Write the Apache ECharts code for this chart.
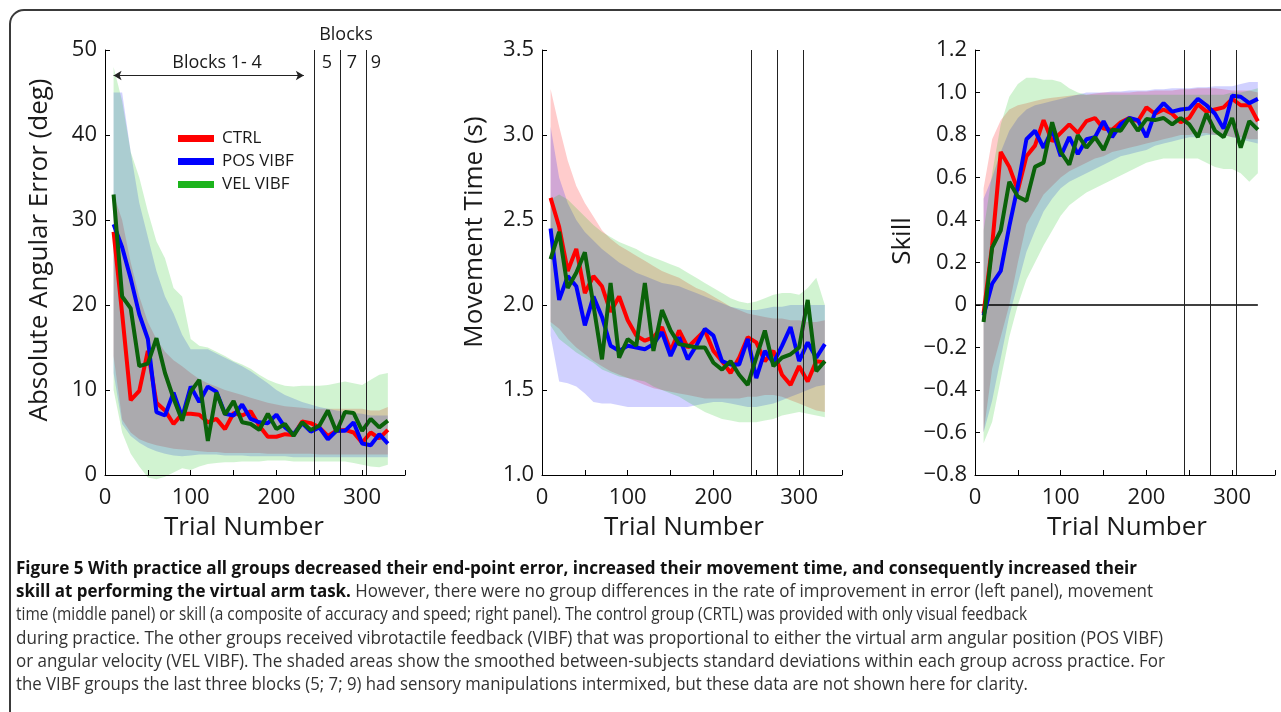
<!DOCTYPE html>
<html>
<head>
<meta charset="utf-8">
<title>Figure 5</title>
<script src="https://cdn.jsdelivr.net/npm/echarts@6.0.0/dist/echarts.min.js"></script>
<style>
html, body { margin: 0; padding: 0; background: #fff; }
#fig { width: 1281px; height: 712px; }
</style>
</head>
<body>
<div id="fig"></div>
<script>
var FONT = '"Open Sans", "Noto Sans", sans-serif';
var INK = '#1a1a1a';

// trial numbers where each group mean was sampled
var trials = [10, 20, 30, 40, 50, 60, 70, 80, 90, 100, 110, 120, 130, 140, 150, 160, 170,
    180, 190, 200, 210, 220, 230, 240, 250, 260, 270, 280, 290, 300, 310, 320, 330];
var blockStarts = [244, 274, 305];
var groupNames = ['CTRL', 'POS VIBF', 'VEL VIBF'];

// axis ranges: [min, max, interval]
var trialRange = [0, 350, 50];
var errRange = [0, 50, 10];
var mtRange = [1, 3.5, 0.5];
var skillRange = [-0.8, 1.2, 0.2];

// absolute angular error (deg)
var errCtrl = [28.6, 19, 8.8, 9.9, 14.6, 8.5, 7.6, 6.0, 7.2, 7.2, 7.1, 6.2, 6.6, 5.4, 7.3, 7.0, 7.5,
    5.8, 4.5, 4.5, 4.8, 4.7, 6.3, 6.1, 5.6, 4.6, 5.2, 5.3, 5.0, 3.8, 5.0, 4.3, 5.3];
var errPos = [29.5, 26.8, 23.1, 18.9, 16.0, 7.4, 7.0, 9.7, 6.8, 10.4, 8.6, 10.4, 9.8, 7.2, 7.0, 8.3, 6.6,
    6.2, 6.1, 7.1, 5.6, 4.8, 6.1, 5.1, 5.6, 4.2, 5.2, 5.2, 6.2, 3.7, 3.5, 4.8, 3.7];
var errVel = [33.0, 21.0, 19.6, 12.8, 13.1, 16.1, 12.0, 9.0, 6.4, 9.8, 11.2, 4.0, 9.7, 7.1, 8.7, 6.2, 6.0,
    5.3, 7.2, 5.4, 6.0, 4.6, 6.2, 5.3, 5.8, 7.6, 5.1, 7.4, 7.3, 5.2, 6.6, 5.6, 6.4];
var errCtrlHi = [33, 30, 25, 21, 18, 16, 14.5, 13.5, 12.8, 12, 11.3, 10.8, 10.4, 10, 9.7, 9.4, 9.1,
    8.8, 8.5, 8.3, 8.1, 8.0, 7.9, 7.8, 7.8, 7.8, 7.8, 7.8, 7.8, 7.8, 7.6, 7.6, 8.0];
var errCtrlLo = [14, 6.5, 5.0, 4.2, 3.8, 3.5, 3.3, 3.1, 3.0, 2.9, 2.8, 2.7, 2.7, 2.6, 2.6, 2.6, 2.6,
    2.6, 2.5, 2.5, 2.5, 2.5, 2.5, 2.5, 2.4, 2.4, 2.4, 2.4, 2.4, 2.4, 2.4, 2.4, 2.4];
var errPosHi = [45, 45, 38, 32, 28, 24, 21, 19, 16.5, 14.8, 14.8, 14.8, 14.3, 13.8, 13.3, 12.8, 12.2,
    11.5, 10.8, 10.0, 9.4, 9.0, 8.6, 8.3, 8.0, 7.8, 7.6, 7.4, 7.3, 7.2, 7.0, 7.0, 7.0];
var errPosLo = [12, 6, 4.6, 3.8, 3.2, 2.8, 2.5, 2.3, 2.2, 2.3, 2.4, 2.4, 2.4, 2.3, 2.3, 2.3, 2.2,
    2.2, 2.2, 2.2, 2.2, 2.1, 2.1, 2.1, 2.1, 2.1, 2.1, 2.1, 2.1, 2.1, 2.1, 2.1, 2.1];
var errVelHi = [48, 44, 38, 35, 31, 27.5, 25.5, 22, 21, 16, 15.2, 15, 14.5, 14, 13.4, 13, 12.5,
    11.8, 11.2, 10.8, 10.5, 10.4, 10.5, 10.5, 10.5, 10.6, 10.8, 11, 10.8, 10.6, 11.2, 11.8, 12];
var errVelLo = [10, 5, 2.5, 1.0, -0.3, -0.5, -0.2, 0.3, 0.8, 0.6, 1.0, 1.3, 1.4, 1.5, 1.5, 1.6, 1.6,
    1.6, 1.7, 1.7, 1.7, 1.6, 1.6, 1.6, 1.6, 1.6, 1.6, 1.6, 1.4, 1.2, 1.0, 0.9, 1.2];

// movement time (s)
var mtCtrl = [2.63, 2.46, 2.2, 2.33, 2.07, 2.17, 2.11, 1.96, 2.05, 1.91, 1.82, 1.79, 1.81, 1.87, 1.73, 1.85, 1.75,
    1.8, 1.85, 1.73, 1.67, 1.6, 1.69, 1.81, 1.78, 1.67, 1.73, 1.59, 1.53, 1.64, 1.55, 1.67, 1.66];
var mtPos = [2.45, 2.03, 2.17, 2.11, 1.88, 2.05, 1.93, 1.76, 1.73, 1.76, 1.75, 1.74, 1.77, 1.84, 1.7, 1.81, 1.68,
    1.76, 1.86, 1.82, 1.67, 1.65, 1.65, 1.8, 1.57, 1.73, 1.66, 1.76, 1.87, 1.67, 1.78, 1.69, 1.77];
var mtVel = [2.27, 2.43, 2.1, 2.19, 2.31, 2.0, 1.68, 2.13, 1.69, 1.8, 1.76, 2.13, 1.73, 1.97, 1.85, 1.77, 1.76,
    1.75, 1.75, 1.66, 1.62, 1.67, 1.59, 1.53, 1.69, 1.85, 1.64, 1.69, 1.71, 1.75, 2.03, 1.61, 1.67];
var mtCtrlHi = [3.27, 3.05, 2.85, 2.7, 2.6, 2.52, 2.44, 2.39, 2.35, 2.32, 2.29, 2.26, 2.23, 2.2, 2.18, 2.16, 2.13,
    2.1, 2.08, 2.05, 2.02, 1.99, 1.97, 1.95, 1.94, 1.93, 1.92, 1.92, 1.91, 1.91, 1.9, 1.9, 1.91];
var mtCtrlLo = [1.9, 1.86, 1.8, 1.75, 1.71, 1.67, 1.64, 1.61, 1.59, 1.57, 1.55, 1.53, 1.51, 1.5, 1.49, 1.48, 1.47,
    1.46, 1.45, 1.45, 1.45, 1.45, 1.45, 1.46, 1.46, 1.47, 1.47, 1.46, 1.44, 1.42, 1.4, 1.38, 1.37];
var mtPosHi = [3.05, 2.75, 2.6, 2.5, 2.43, 2.38, 2.33, 2.29, 2.25, 2.22, 2.19, 2.17, 2.15, 2.13, 2.12, 2.11, 2.09,
    2.07, 2.05, 2.03, 2.01, 1.99, 1.98, 1.97, 1.97, 1.98, 1.99, 1.99, 2.0, 2.0, 2.0, 2.0, 2.0];
var mtPosLo = [1.82, 1.55, 1.54, 1.52, 1.48, 1.43, 1.42, 1.42, 1.41, 1.4, 1.4, 1.4, 1.4, 1.4, 1.4, 1.4, 1.4,
    1.41, 1.42, 1.43, 1.43, 1.42, 1.41, 1.4, 1.4, 1.41, 1.42, 1.44, 1.46, 1.48, 1.5, 1.52, 1.53];
var mtVelHi = [2.62, 2.65, 2.62, 2.57, 2.52, 2.47, 2.43, 2.4, 2.37, 2.35, 2.33, 2.3, 2.28, 2.26, 2.24, 2.22, 2.19,
    2.16, 2.13, 2.1, 2.07, 2.04, 2.02, 2.01, 2.02, 2.04, 2.06, 2.07, 2.07, 2.06, 2.1, 2.16, 2.0];
var mtVelLo = [1.88, 1.8, 1.76, 1.72, 1.69, 1.66, 1.62, 1.6, 1.58, 1.57, 1.56, 1.55, 1.52, 1.5, 1.48, 1.46, 1.43,
    1.4, 1.37, 1.35, 1.33, 1.32, 1.31, 1.31, 1.31, 1.32, 1.33, 1.35, 1.36, 1.37, 1.36, 1.35, 1.34];

// skill
var skCtrl = [-0.04, 0.28, 0.72, 0.65, 0.54, 0.7, 0.75, 0.87, 0.77, 0.81, 0.85, 0.81, 0.865, 0.88, 0.83, 0.825, 0.86,
    0.88, 0.865, 0.93, 0.9, 0.92, 0.9, 0.86, 0.88, 0.945, 0.91, 0.92, 0.93, 0.97, 0.94, 0.94, 0.865];
var skPos = [-0.05, 0.1, 0.16, 0.37, 0.56, 0.78, 0.82, 0.74, 0.825, 0.7, 0.79, 0.71, 0.78, 0.79, 0.865, 0.79, 0.85,
    0.88, 0.87, 0.79, 0.905, 0.95, 0.91, 0.92, 0.925, 0.97, 0.94, 0.9, 0.83, 0.985, 0.98, 0.95, 0.97];
var skVel = [-0.08, 0.27, 0.35, 0.58, 0.51, 0.49, 0.65, 0.67, 0.86, 0.72, 0.66, 0.8, 0.74, 0.79, 0.73, 0.825, 0.82,
    0.88, 0.82, 0.875, 0.87, 0.88, 0.85, 0.88, 0.85, 0.79, 0.9, 0.82, 0.79, 0.88, 0.74, 0.865, 0.825];
var skCtrlHi = [0.55, 0.78, 0.87, 0.92, 0.94, 0.95, 0.96, 0.97, 0.975, 0.98, 0.985, 0.99, 0.99, 0.995, 1.0, 1.0, 1.0,
    1.0, 1.005, 1.005, 1.01, 1.01, 1.01, 1.015, 1.015, 1.02, 1.02, 1.02, 1.015, 1.01, 1.01, 1.01, 1.0];
var skCtrlLo = [-0.6, -0.3, -0.15, 0.0, 0.2, 0.38, 0.45, 0.52, 0.56, 0.6, 0.63, 0.65, 0.67, 0.69, 0.7, 0.72, 0.73,
    0.74, 0.75, 0.76, 0.77, 0.78, 0.79, 0.8, 0.8, 0.81, 0.81, 0.8, 0.8, 0.79, 0.79, 0.78, 0.78];
var skPosHi = [0.5, 0.6, 0.72, 0.82, 0.88, 0.92, 0.94, 0.95, 0.96, 0.97, 0.98, 0.99, 1.0, 1.0, 1.0, 1.005, 1.005,
    1.01, 1.01, 1.01, 1.015, 1.015, 1.02, 1.02, 1.02, 1.025, 1.025, 1.03, 1.03, 1.03, 1.04, 1.05, 1.05];
var skPosLo = [-0.6, -0.45, -0.25, -0.05, 0.1, 0.25, 0.35, 0.44, 0.5, 0.55, 0.58, 0.6, 0.62, 0.64, 0.66, 0.68, 0.7,
    0.71, 0.72, 0.73, 0.75, 0.76, 0.77, 0.78, 0.79, 0.79, 0.8, 0.8, 0.8, 0.79, 0.78, 0.77, 0.76];
var skVelHi = [0.35, 0.62, 0.85, 0.98, 1.04, 1.07, 1.07, 1.06, 1.06, 1.05, 1.02, 1.0, 0.99, 0.99, 0.99, 0.99, 0.99,
    0.99, 0.99, 0.99, 0.99, 0.99, 0.99, 0.99, 0.99, 0.99, 0.99, 0.99, 0.99, 1.0, 1.0, 1.01, 1.02];
var skVelLo = [-0.65, -0.55, -0.35, -0.15, 0.0, 0.12, 0.2, 0.28, 0.35, 0.42, 0.47, 0.5, 0.53, 0.55, 0.57, 0.59, 0.61,
    0.63, 0.65, 0.67, 0.68, 0.69, 0.69, 0.69, 0.69, 0.69, 0.67, 0.65, 0.64, 0.64, 0.62, 0.58, 0.62];

var captionLines = [
    ['Figure 5 With practice all groups decreased their end-point error, increased their movement time, and consequently increased their', ''],
    ['skill at performing the virtual arm task.', ' However, there were no group differences in the rate of improvement in error (left panel), movement'],
    ['', 'time (middle panel) or skill (a composite of accuracy and speed; right panel). The control group (CRTL) was provided with only visual feedback'],
    ['', 'during practice. The other groups received vibrotactile feedback (VIBF) that was proportional to either the virtual arm angular position (POS VIBF)'],
    ['', 'or angular velocity (VEL VIBF). The shaded areas show the smoothed between-subjects standard deviations within each group across practice. For'],
    ['', 'the VIBF groups the last three blocks (5; 7; 9) had sensory manipulations intermixed, but these data are not shown here for clarity.']
];
var captionEnds = [1137, 1153, 1027, 1163, 1165, 1028];

var lineColors = ['#ff0000', '#0000ff', '#0a620a'];
var legendColors = ['#ff0000', '#0000ff', '#1cb41c'];
var bandColors = ['rgba(255,0,0,0.2)', 'rgba(0,0,255,0.18)', 'rgba(0,190,0,0.18)'];
var gridLefts = [105, 542, 975];

var panels = [
    {range: errRange, means: [errCtrl, errPos, errVel], hi: [errCtrlHi, errPosHi, errVelHi], lo: [errCtrlLo, errPosLo, errVelLo],
        fmt: function (v) { return String(v); }},
    {range: mtRange, means: [mtCtrl, mtPos, mtVel], hi: [mtCtrlHi, mtPosHi, mtVelHi], lo: [mtCtrlLo, mtPosLo, mtVelLo],
        fmt: function (v) { return v.toFixed(1); }},
    {range: skillRange, means: [skCtrl, skPos, skVel], hi: [skCtrlHi, skPosHi, skVelHi], lo: [skCtrlLo, skPosLo, skVelLo],
        fmt: function (v) {
            if (Math.abs(v) < 1e-9) return '0';
            return (v < 0 ? '\u2212' : '') + Math.abs(v).toFixed(1);
        }}
];

function pairs(ys) {
    return trials.map(function (t, k) { return [t, ys[k]]; });
}

// one filled polygon per band, upper edge forward then lower edge back
function bandSeries(pi, lo, hi, color) {
    return {
        type: 'custom', xAxisIndex: pi, yAxisIndex: pi, silent: true, clip: pi !== 0, z: 1,
        data: trials.map(function (t, k) { return [t, lo[k], hi[k]]; }),
        encode: {x: 0, y: [1, 2]},
        renderItem: function (params, api) {
            if (params.dataIndex !== 0) return;
            var pts = [];
            for (var k = 0; k < trials.length; k++) pts.push(api.coord([trials[k], hi[k]]));
            for (var j = trials.length - 1; j >= 0; j--) pts.push(api.coord([trials[j], lo[j]]));
            return {type: 'polygon', shape: {points: pts}, style: {fill: color, stroke: null}};
        }
    };
}

var grids = [], xAxes = [], yAxes = [], series = [];

panels.forEach(function (p, pi) {
    grids.push({left: gridLefts[pi], top: 50, width: 300, height: 425, containLabel: false, outerBoundsMode: 'none'});
    xAxes.push({
        type: 'value', gridIndex: pi, min: trialRange[0], max: trialRange[1], interval: trialRange[2],
        axisLine: {onZero: false, lineStyle: {color: '#000', width: 1}},
        axisTick: {inside: true, length: 5, lineStyle: {color: '#000'}},
        axisLabel: {margin: 12, fontSize: 22, fontFamily: FONT, color: INK,
            formatter: function (v) { return v % 100 === 0 ? String(v) : ''; }},
        splitLine: {show: false}, z: 5
    });
    yAxes.push({
        type: 'value', gridIndex: pi, min: p.range[0], max: p.range[1], interval: p.range[2],
        axisLine: {show: true, onZero: false, lineStyle: {color: '#000', width: 1}},
        axisTick: {show: true, inside: true, length: 5, lineStyle: {color: '#000'}},
        axisLabel: {margin: 8, fontSize: 22, fontFamily: FONT, color: INK, formatter: p.fmt,
            showMinLabel: true, showMaxLabel: true},
        splitLine: {show: false}, z: 5
    });

    p.lo.forEach(function (lo, g) {
        series.push(bandSeries(pi, lo, p.hi[g], bandColors[g]));
    });

    if (pi === 2) {
        series.push({
            type: 'line', xAxisIndex: pi, yAxisIndex: pi, silent: true, symbol: 'none', z: 2,
            data: [[trialRange[0], 0], [trials[trials.length - 1], 0]],
            lineStyle: {color: '#000', width: 1.5}
        });
    }

    p.means.forEach(function (m, g) {
        var s = {
            type: 'line', name: groupNames[g], xAxisIndex: pi, yAxisIndex: pi,
            data: pairs(m), symbol: 'none', z: 3,
            lineStyle: {color: lineColors[g], width: 4}, itemStyle: {color: lineColors[g]},
            emphasis: {disabled: true}
        };
        if (g === 2) {
            var marks = blockStarts.map(function (b) { return {xAxis: b}; });
            if (pi === 0) {
                marks.push([
                    {coord: [10, 47], symbol: 'arrow'},
                    {coord: [232, 47], symbol: 'arrow'}
                ]);
            }
            s.markLine = {
                silent: true, symbol: 'none', symbolSize: [7, 8], animation: false,
                label: {show: false}, emphasis: {disabled: true},
                lineStyle: {color: '#222', width: 1, type: 'solid'},
                data: marks
            };
        }
        series.push(s);
    });
});

function label(text, x, y, size, rot) {
    return {
        type: 'text', x: x, y: y, rotation: rot || 0, silent: true, z: 10,
        style: {text: text, fontSize: size, fontFamily: FONT, fill: INK, align: 'center', verticalAlign: 'middle'}
    };
}

var graphics = [
    {type: 'rect', silent: true, z: 0, shape: {x: 10, y: 10, width: 1300, height: 760, r: 14},
        style: {fill: 'none', stroke: '#3a3a3a', lineWidth: 2}},
    label('Blocks', 346, 35, 18),
    label('Blocks 1- 4', 217, 63, 18),
    label('5', 327, 63, 18),
    label('7', 352, 63, 18),
    label('9', 376, 63, 18),
    label('Absolute Angular Error (deg)', 40, 250, 26, Math.PI / 2),
    label('Movement Time (s)', 475, 232, 26, Math.PI / 2),
    label('Skill', 903, 241, 26, Math.PI / 2),
    label('Trial Number', 244, 528, 26),
    label('Trial Number', 684, 528, 26),
    label('Trial Number', 1127, 528, 26)
];

// caption: squeeze each line horizontally to the measured line length
var CAP_SIZE = 18;
var capY = [569, 592, 615, 639, 662, 685];
var mctx = document.createElement('canvas').getContext('2d');
function measure(str, weight) {
    mctx.font = weight + ' ' + CAP_SIZE + 'px ' + FONT;
    return mctx.measureText(str).width;
}
captionLines.forEach(function (ln, i) {
    var w = measure(ln[0], 'bold') + measure(ln[1], 'normal');
    var txt = (ln[0] ? '{b|' + ln[0] + '}' : '') + (ln[1] ? '{r|' + ln[1] + '}' : '');
    graphics.push({
        type: 'text', x: 16, y: capY[i], scaleX: (captionEnds[i] - 16) / w, silent: true, z: 10,
        style: {
            text: txt, verticalAlign: 'middle', align: 'left',
            rich: {
                b: {fontWeight: 'bold', fontSize: CAP_SIZE, fontFamily: FONT, fill: '#111'},
                r: {fontWeight: 'normal', fontSize: CAP_SIZE, fontFamily: FONT, fill: '#333'}
            }
        }
    });
});

var chart = echarts.init(document.getElementById('fig'));
chart.setOption({
    animation: false,
    backgroundColor: '#fff',
    grid: grids,
    xAxis: xAxes,
    yAxis: yAxes,
    legend: {
        orient: 'vertical', left: 173, top: 125, icon: 'rect', itemWidth: 36, itemHeight: 7, itemGap: 6,
        selectedMode: false,
        textStyle: {fontSize: 17, fontFamily: FONT, color: INK, padding: [0, 0, 0, 3]},
        data: groupNames.map(function (n, g) { return {name: n, itemStyle: {color: legendColors[g]}}; })
    },
    graphic: graphics,
    series: series
});
window.addEventListener('resize', function () {
    chart.resize();
});
</script>
</body>
</html>
